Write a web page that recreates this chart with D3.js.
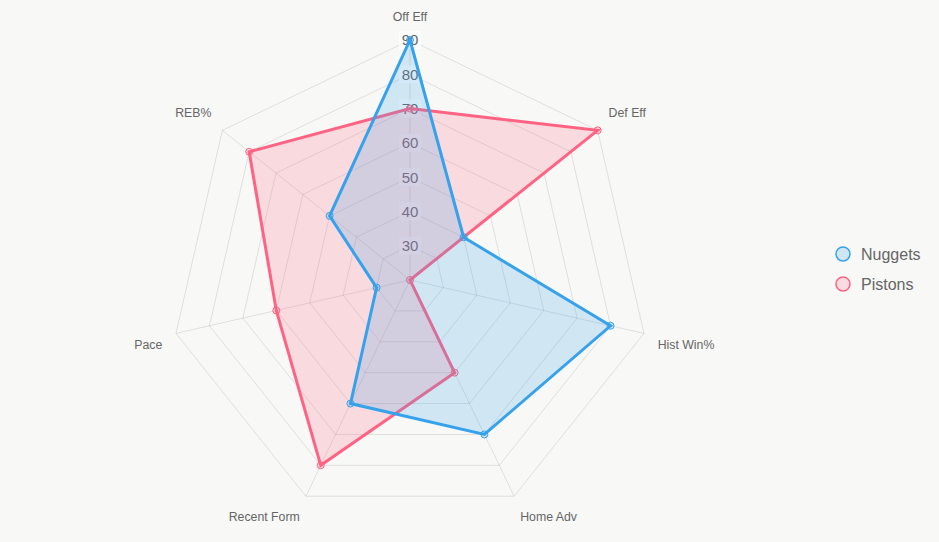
<!DOCTYPE html>
<html>
<head>
<meta charset="utf-8">
<script src="https://cdn.jsdelivr.net/npm/d3@7"></script>
<style>
  html, body { margin: 0; padding: 0; background: #f8f8f6; }
  svg { display: block; font-family: "Liberation Sans", Arial, Helvetica, sans-serif; }
</style>
</head>
<body>
<div id="chart"></div>
<script>
var width = 939, height = 542;

// data
var axes = ["Off Eff", "Def Eff", "Hist Win%", "Home Adv", "Recent Form", "Pace", "REB%"];
var nuggets = [90, 40, 80, 70, 60, 30, 50];
var pistons = [70, 90, 20, 50, 80, 60, 80];
var tickValues = [30, 40, 50, 60, 70, 80, 90];
var seriesNames = ["Nuggets", "Pistons"];
var seriesColors = ["rgb(54,162,235)", "rgb(255,99,132)"];
var seriesFills = ["rgba(54,162,235,0.2)", "rgba(255,99,132,0.2)"];

var cx = 410, cy = 280, R = 240;
var rScale = d3.scaleLinear().domain([20, 90]).range([0, R]);
var angle = d3.scaleLinear().domain([0, axes.length]).range([0, 2 * Math.PI]);

function pt(i, r) {
    var a = angle(i);
    return [cx + r * Math.sin(a), cy - r * Math.cos(a)];
}

var svg = d3.select("#chart").append("svg")
    .attr("width", width).attr("height", height);

svg.append("rect").attr("width", width).attr("height", height).attr("fill", "#f8f8f6");

// grid rings
var g = svg.append("g");
tickValues.forEach(function(t) {
    var pts = axes.map(function(d, i) { return pt(i, rScale(t)); });
    g.append("polygon")
        .attr("points", pts.map(function(p) { return p.join(","); }).join(" "))
        .attr("fill", "none")
        .attr("stroke", "rgba(0,0,0,0.1)")
        .attr("stroke-width", 1);
});

// angle lines
axes.forEach(function(d, i) {
    var p = pt(i, R);
    g.append("line")
        .attr("x1", cx).attr("y1", cy)
        .attr("x2", p[0]).attr("y2", p[1])
        .attr("stroke", "rgba(0,0,0,0.1)")
        .attr("stroke-width", 1);
});

// tick labels with backdrop
tickValues.forEach(function(t) {
    var y = cy - rScale(t);
    g.append("rect")
        .attr("x", cx - 11).attr("y", y - 9)
        .attr("width", 22).attr("height", 18)
        .attr("fill", "rgba(255,255,255,0.75)");
    g.append("text")
        .attr("x", cx).attr("y", y)
        .attr("dy", "0.36em")
        .attr("text-anchor", "middle")
        .attr("font-size", 15)
        .attr("fill", "#666")
        .text(t);
});

// point labels
axes.forEach(function(d, i) {
    var a = angle(i);
    var p = pt(i, R + 14);
    var s = Math.sin(a), c = Math.cos(a);
    var anchor = Math.abs(s) < 0.05 ? "middle" : (s > 0 ? "start" : "end");
    g.append("text")
        .attr("x", p[0])
        .attr("y", c > 0 ? p[1] - 5 : p[1] + 12)
        .attr("text-anchor", anchor)
        .attr("font-size", 12.3)
        .attr("fill", "#666")
        .text(d);
});

// datasets (first series drawn last, on top)
var line = d3.lineRadial()
    .angle(function(d, i) { return angle(i); })
    .radius(function(d) { return rScale(d); })
    .curve(d3.curveLinearClosed);

[pistons, nuggets].forEach(function(vals, j) {
    var k = 1 - j;
    var ds = svg.append("g").attr("transform", "translate(" + cx + "," + cy + ")");
    ds.append("path")
        .attr("d", line(vals))
        .attr("fill", seriesFills[k])
        .attr("stroke", seriesColors[k])
        .attr("stroke-width", 3)
        .attr("stroke-linejoin", "miter");
    vals.forEach(function(v, i) {
        var a = angle(i), r = rScale(v);
        ds.append("circle")
            .attr("cx", r * Math.sin(a)).attr("cy", -r * Math.cos(a))
            .attr("r", 3.5)
            .attr("fill", seriesFills[k])
            .attr("stroke", seriesColors[k])
            .attr("stroke-width", 1);
    });
});

// legend
var legend = svg.append("g").attr("transform", "translate(843,254)");
seriesNames.forEach(function(name, k) {
    var row = legend.append("g").attr("transform", "translate(0," + (k * 30) + ")");
    row.append("circle")
        .attr("r", 7)
        .attr("fill", seriesFills[k])
        .attr("stroke", seriesColors[k])
        .attr("stroke-width", 1.5);
    row.append("text")
        .attr("x", 18).attr("y", 0)
        .attr("dy", "0.36em")
        .attr("font-size", 16)
        .attr("fill", "#666")
        .text(name);
});
</script>
</body>
</html>
